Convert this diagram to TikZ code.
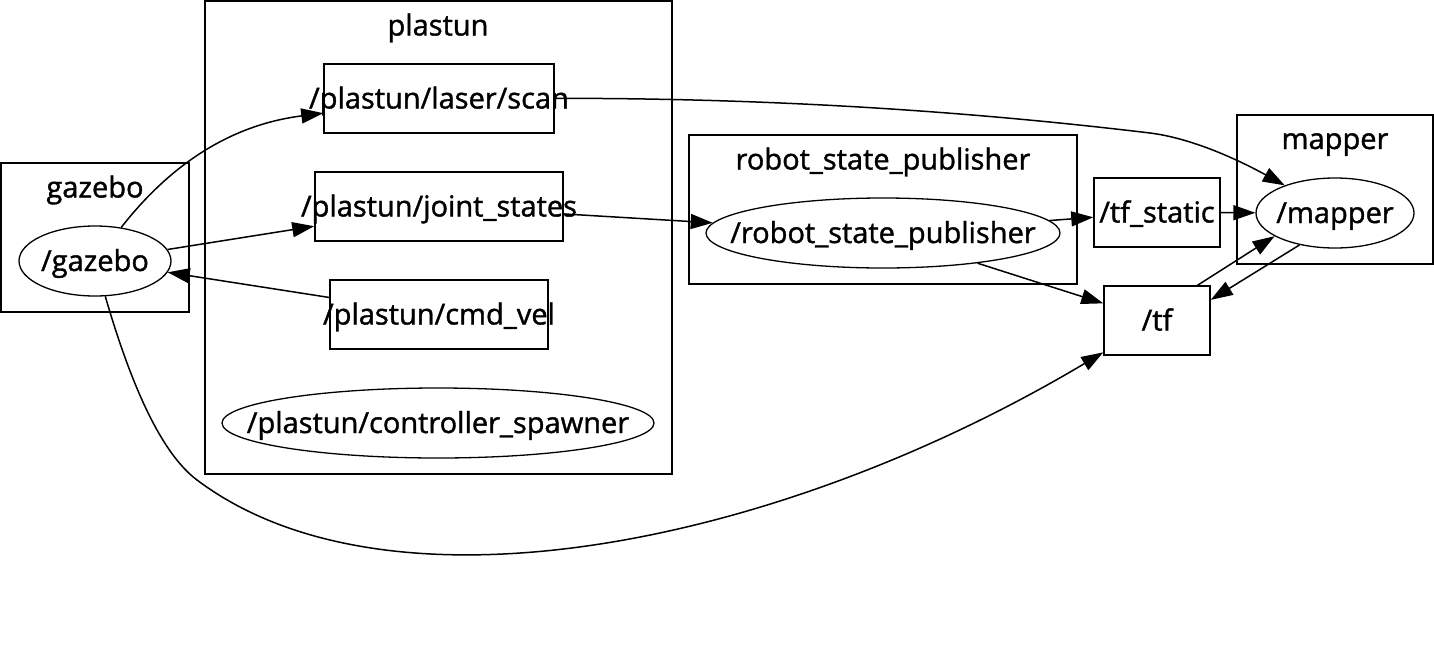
\documentclass[tikz,border=0pt]{standalone}
\usepackage{fontspec}
\setmainfont{Open Sans}[FakeBold=1.3]
\usetikzlibrary{arrows.meta,shapes.geometric}
\newcommand{\ztext}[1]{\makebox[0pt]{#1}}
\begin{document}
\begin{tikzpicture}[x=1pt,y=-1pt,
  every node/.style={font=\fontsize{29}{35}\selectfont, text height=26pt, text depth=6pt},
  cluster/.style={draw, line width=1.8pt, rectangle, inner sep=0pt},
  topic/.style={draw, line width=1.5pt, rectangle, inner sep=0pt, minimum height=69pt},
  rosnode/.style={draw, line width=1.3pt, ellipse, inner sep=0pt, minimum height=70pt},
  clabel/.style={inner sep=0pt},
  edge/.style={line width=1.5pt, -{Triangle[length=22pt,width=15pt]}}]
\useasboundingbox (0,0) rectangle (1434,664);

% clusters
\node[cluster, minimum width=188pt, minimum height=149pt] (gazebocl) at (95,237.5) {};
\node[clabel] (gazebolbl) at (95,187.5) {gazebo};
\node[cluster, minimum width=467pt, minimum height=473pt] (plastuncl) at (438.5,237.5) {};
\node[clabel] (plastunlbl) at (438,25.5) {plastun};
\node[cluster, minimum width=388pt, minimum height=149pt] (rspcl) at (883,209.5) {};
\node[clabel] (rsplbl) at (883,159.5) {robot\_state\_publisher};
\node[cluster, minimum width=196pt, minimum height=149pt] (mappercl) at (1335,189.5) {};
\node[clabel] (mapperlbl) at (1335,139) {mapper};

% ROS nodes
\node[rosnode, minimum width=152pt] (gazebo) at (95,261) {\ztext{/gazebo}};
\node[rosnode, minimum width=432pt] (spawner) at (438,423) {\ztext{/plastun/controller\_spawner}};
\node[rosnode, minimum width=354pt] (rsp) at (883,233) {\ztext{/robot\_state\_publisher}};
\node[rosnode, minimum width=158pt] (mapper) at (1335,213) {\ztext{/mapper}};

% topics
\node[topic, minimum width=230pt] (scan) at (439,98.5) {\ztext{/plastun/laser/scan}};
\node[topic, minimum width=248pt] (joint) at (439,206.5) {\ztext{/plastun/joint\_states}};
\node[topic, minimum width=218pt] (cmdvel) at (439,314.5) {\ztext{/plastun/cmd\_vel}};
\node[topic, minimum width=126pt] (tfstatic) at (1157,212.5) {\ztext{/tf\_static}};
\node[topic, minimum width=106pt] (tf) at (1157,320.5) {\ztext{/tf}};

% edges
\draw[edge] (gazebo) .. controls (170,165) and (230,125) .. (scan);
\draw[edge] (gazebo) -- (joint);
\draw[edge] (cmdvel) -- (gazebo);
\draw[edge] (gazebo) .. controls (127,371) and (157,450) .. (197,480)
  .. controls (390,625) and (780,545) .. (tf);
\draw[edge] (scan) .. controls (800,98) and (1000,115) .. (1150,133)
  .. controls (1190,138) and (1235,158) .. (mapper);
\draw[edge] (joint) -- (rsp);
\draw[edge] (rsp) -- (tfstatic);
\draw[edge] (rsp) -- (tf);
\draw[edge] (tfstatic) -- (mapper);
\draw[edge] (tf.41) -- (mapper.201);
\draw[edge] (mapper.222) -- (tf.21);
\end{tikzpicture}
\end{document}
